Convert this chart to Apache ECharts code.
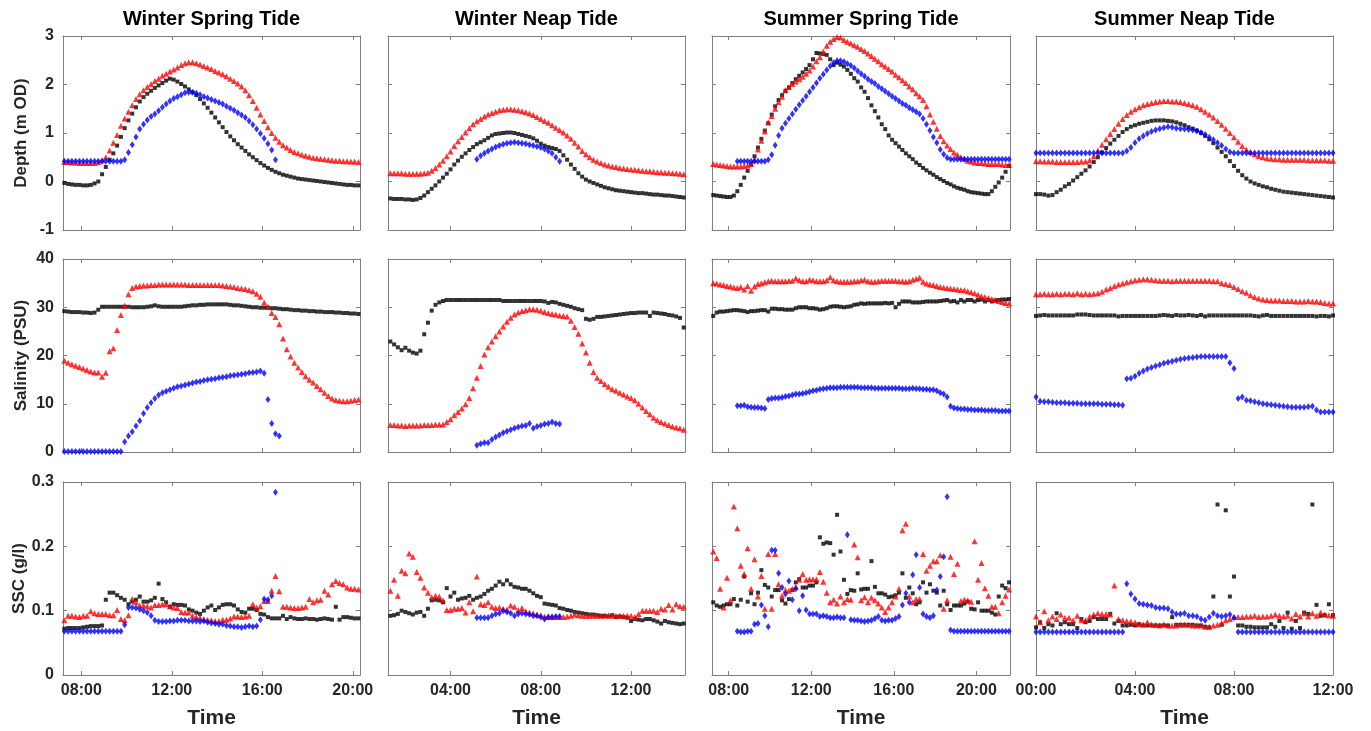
<!DOCTYPE html>
<html>
<head>
<meta charset="utf-8">
<title>Tide panels</title>
<script src="https://cdn.jsdelivr.net/npm/echarts@6/dist/echarts.min.js"></script>
<style>
  html, body { margin: 0; padding: 0; background: #fff; }
  #chart { width: 1371px; height: 731px; }
</style>
</head>
<body>
<div id="chart"></div>
<script>
// samples every 10 minutes, x in decimal hours
const STEP = 1 / 6

// ---- Winter Spring Tide ----
const wsStart = 7.25
const wsTicks = [8, 12, 16, 20]
const wsDepthBlack = [-0.03, -0.05, -0.06, -0.07, -0.07, -0.08, -0.08, -0.07, -0.04, 0.0,
  0.15, 0.3, 0.45, 0.58, 0.74, 0.92, 1.1, 1.26, 1.4, 1.53,
  1.65, 1.74, 1.81, 1.87, 1.93, 1.98, 2.03, 2.08, 2.12, 2.1,
  2.06, 2.01, 1.96, 1.9, 1.84, 1.78, 1.7, 1.61, 1.52, 1.42,
  1.32, 1.22, 1.12, 1.02, 0.93, 0.85, 0.77, 0.7, 0.63, 0.56,
  0.5, 0.44, 0.38, 0.33, 0.28, 0.24, 0.2, 0.17, 0.14, 0.12,
  0.1, 0.08, 0.06, 0.05, 0.04, 0.03, 0.02, 0.01, 0.0, -0.01,
  -0.02, -0.03, -0.04, -0.05, -0.06, -0.07, -0.07, -0.08, -0.08]
const wsDepthRed = [0.4, 0.4, 0.39, 0.39, 0.38, 0.38, 0.38, 0.38, 0.38, 0.4,
  0.44, 0.5, 0.64, 0.8, 0.96, 1.15, 1.3, 1.44, 1.57, 1.7,
  1.8, 1.88, 1.95, 2.01, 2.07, 2.12, 2.18, 2.22, 2.27, 2.31,
  2.35, 2.4, 2.44, 2.46, 2.46, 2.44, 2.41, 2.38, 2.35, 2.32,
  2.28, 2.25, 2.21, 2.17, 2.12, 2.07, 2.02, 1.96, 1.88, 1.78,
  1.66, 1.52, 1.38, 1.25, 1.12, 1.0, 0.9, 0.82, 0.75, 0.7,
  0.65, 0.61, 0.58, 0.55, 0.53, 0.51, 0.49, 0.48, 0.47, 0.46,
  0.45, 0.44, 0.43, 0.43, 0.42, 0.42, 0.41, 0.41, 0.4]
const wsDepthBlue = [0.42, 0.42, 0.42, 0.42, 0.42, 0.42, 0.42, 0.42, 0.42, 0.42,
  0.42, 0.42, 0.42, 0.42, 0.42, 0.42, 0.45, 0.6, 0.76, 0.92,
  1.08, 1.18, 1.27, 1.34, 1.39, 1.46, 1.53, 1.6, 1.66, 1.71,
  1.75, 1.79, 1.83, 1.84, 1.84, 1.82, 1.79, 1.75, 1.72, 1.69,
  1.66, 1.63, 1.6, 1.55, 1.51, 1.47, 1.42, 1.37, 1.32, 1.25,
  1.17, 1.08, 0.99, 0.89, 0.78, 0.65, 0.45]
const wsSalBlack = [29.2, 29.1, 29.0, 29.0, 29.0, 28.9, 28.9, 28.8, 28.9, 29.5,
  30.1, 30.1, 30.1, 30.1, 30.1, 30.1, 30.1, 30.1, 30.0, 30.0,
  30.0, 30.0, 30.1, 30.2, 30.4, 30.2, 30.1, 30.1, 30.1, 30.1,
  30.1, 30.1, 30.2, 30.3, 30.4, 30.4, 30.5, 30.5, 30.6, 30.6,
  30.6, 30.6, 30.6, 30.6, 30.5, 30.4, 30.4, 30.3, 30.2, 30.1,
  30.0, 30.0, 29.9, 29.9, 29.9, 29.8, 29.8, 29.7, 29.6, 29.6,
  29.5, 29.4, 29.4, 29.3, 29.3, 29.2, 29.2, 29.1, 29.1, 29.0,
  29.0, 29.0, 28.9, 28.9, 28.8, 28.8, 28.7, 28.7, 28.6]
const wsSalRed = [18.9, 18.5, 18.2, 17.9, 17.6, 17.3, 17.0, 16.7, 16.5, 16.5,
  15.6, 16.4, 20.9, 21.5, 25.3, 28.4, 30.3, 32.7, 34.0, 34.3,
  34.4, 34.5, 34.5, 34.6, 34.6, 34.7, 34.7, 34.7, 34.7, 34.7,
  34.7, 34.7, 34.7, 34.6, 34.6, 34.6, 34.6, 34.6, 34.6, 34.6,
  34.6, 34.6, 34.5, 34.4, 34.3, 34.2, 34.0, 33.9, 33.8, 33.6,
  33.3, 32.8, 32.2, 31.0, 30.1, 28.8, 28.0, 26.5, 23.5, 21.3,
  19.8, 18.5, 17.5, 16.6, 15.7, 15.0, 14.4, 13.7, 13.0, 12.3,
  11.6, 11.1, 10.8, 10.6, 10.5, 10.5, 10.6, 10.8, 10.9]
const wsSalBlue = [0.1, 0.1, 0.1, 0.1, 0.1, 0.1, 0.1, 0.1, 0.1, 0.1,
  0.1, 0.1, 0.1, 0.1, 0.1, 0.1, 2.1, 3.3, 4.2, 5.4,
  6.5, 8.0, 9.2, 10.2, 11.1, 11.8, 12.3, 12.6, 12.9, 13.2,
  13.5, 13.7, 13.9, 14.1, 14.3, 14.5, 14.6, 14.8, 15.0, 15.1,
  15.2, 15.4, 15.5, 15.6, 15.8, 15.9, 16.0, 16.1, 16.2, 16.4,
  16.5, 16.6, 16.8, 16.3, 10.9, 5.9, 3.8, 3.3]
const wsSscBlack = [0.072, 0.073, 0.073, 0.073, 0.073, 0.074, 0.075, 0.076, 0.076, 0.076,
  0.077, 0.117, 0.128, 0.128, 0.124, 0.12, 0.117, 0.11, 0.114, 0.117,
  0.122, 0.114, 0.114, 0.116, 0.12, 0.142, 0.118, 0.113, 0.106, 0.11,
  0.109, 0.109, 0.108, 0.102, 0.1, 0.097, 0.095, 0.1, 0.105, 0.108,
  0.101, 0.105, 0.109, 0.11, 0.11, 0.108, 0.102, 0.098, 0.097, 0.103,
  0.103, 0.101, 0.095, 0.094, 0.09, 0.088, 0.088, 0.088, 0.092, 0.087,
  0.09, 0.088, 0.087, 0.087, 0.088, 0.087, 0.087, 0.086, 0.087, 0.088,
  0.087, 0.086, 0.106, 0.086, 0.09, 0.09, 0.089, 0.088, 0.088]
const wsSscRed = [0.085, 0.092, 0.092, 0.091, 0.09, 0.092, 0.092, 0.099, 0.096, 0.095,
  0.095, 0.095, 0.093, 0.093, 0.101, 0.087, 0.085, 0.093, 0.118, 0.113,
  0.108, 0.108, 0.107, 0.105, 0.109, 0.109, 0.11, 0.11, 0.107, 0.105,
  0.104, 0.098, 0.097, 0.097, 0.092, 0.09, 0.089, 0.087, 0.086, 0.085,
  0.084, 0.084, 0.086, 0.086, 0.088, 0.091, 0.091, 0.09, 0.091, 0.092,
  0.11, 0.105, 0.107, 0.115, 0.115, 0.131, 0.154, 0.13, 0.106, 0.106,
  0.105, 0.104, 0.104, 0.105, 0.106, 0.118, 0.113, 0.116, 0.117, 0.131,
  0.125, 0.141, 0.146, 0.143, 0.141, 0.136, 0.134, 0.134, 0.133]
const wsSscBlue = [0.068, 0.068, 0.068, 0.068, 0.068, 0.068, 0.068, 0.068, 0.068, 0.068,
  0.068, 0.068, 0.068, 0.068, 0.068, 0.068, 0.078, 0.105, 0.105, 0.104,
  0.102, 0.1, 0.097, 0.092, 0.085, 0.083, 0.083, 0.083, 0.084, 0.084,
  0.085, 0.085, 0.085, 0.084, 0.084, 0.084, 0.083, 0.084, 0.082, 0.081,
  0.08, 0.079, 0.079, 0.077, 0.076, 0.075, 0.075, 0.074, 0.075, 0.076,
  0.075, 0.076, 0.086, 0.118, 0.117, 0.123, 0.284]

// ---- Winter Neap Tide ----
const wnStart = 1 + 20 / 60
const wnBlueStart = 5 + 10 / 60
const wnTicks = [4, 8, 12]
const wnDepthBlack = [-0.35, -0.36, -0.36, -0.36, -0.37, -0.37, -0.38, -0.37, -0.34, -0.29,
  -0.22, -0.15, -0.08, 0.0, 0.08, 0.16, 0.25, 0.35, 0.43, 0.51,
  0.58, 0.65, 0.71, 0.77, 0.81, 0.85, 0.9, 0.95, 0.98, 0.99,
  1.0, 1.01, 1.01, 1.0, 0.98, 0.96, 0.94, 0.92, 0.89, 0.84,
  0.78, 0.74, 0.71, 0.69, 0.67, 0.63, 0.54, 0.45, 0.35, 0.26,
  0.17, 0.1, 0.04, 0.0, -0.03, -0.06, -0.09, -0.12, -0.14, -0.16,
  -0.18, -0.19, -0.2, -0.21, -0.22, -0.23, -0.24, -0.24, -0.25, -0.26,
  -0.27, -0.27, -0.28, -0.29, -0.29, -0.3, -0.31, -0.32, -0.33]
const wnDepthRed = [0.17, 0.17, 0.17, 0.17, 0.16, 0.16, 0.16, 0.16, 0.16, 0.17,
  0.18, 0.22, 0.28, 0.35, 0.43, 0.52, 0.62, 0.73, 0.83, 0.92,
  1.01, 1.1, 1.18, 1.24, 1.29, 1.34, 1.38, 1.41, 1.44, 1.47,
  1.48, 1.49, 1.49, 1.48, 1.47, 1.45, 1.43, 1.4, 1.37, 1.33,
  1.29, 1.25, 1.21, 1.16, 1.11, 1.06, 1.01, 0.95, 0.88, 0.8,
  0.72, 0.63, 0.56, 0.5, 0.45, 0.41, 0.38, 0.35, 0.33, 0.31,
  0.3, 0.28, 0.27, 0.26, 0.25, 0.24, 0.23, 0.22, 0.21, 0.21,
  0.2, 0.19, 0.19, 0.18, 0.18, 0.17, 0.17, 0.16, 0.15]
const wnDepthBlue = [0.46, 0.53, 0.58, 0.63, 0.67, 0.71, 0.74, 0.77, 0.79, 0.8,
  0.81, 0.8, 0.79, 0.78, 0.76, 0.74, 0.72, 0.7, 0.67, 0.63,
  0.58, 0.5, 0.42]
const wnSalBlack = [22.9, 22.3, 21.7, 21.1, 21.6, 21.0, 20.6, 20.4, 21.0, 24.4,
  26.8, 29.3, 30.5, 31.0, 31.3, 31.5, 31.5, 31.5, 31.5, 31.5,
  31.5, 31.5, 31.5, 31.5, 31.5, 31.5, 31.5, 31.5, 31.5, 31.5,
  31.3, 31.3, 31.3, 31.3, 31.3, 31.3, 31.3, 31.3, 31.3, 31.3,
  31.3, 31.2, 30.9, 31.1, 31.0, 30.7, 30.5, 30.3, 30.1, 29.8,
  29.6, 29.4, 27.6, 27.4, 27.6, 28.0, 28.0, 28.1, 28.2, 28.3,
  28.4, 28.5, 28.6, 28.7, 28.8, 28.8, 28.9, 28.9, 28.9, 28.2,
  28.9, 28.8, 28.7, 28.6, 28.4, 28.3, 28.1, 27.8, 25.8]
const wnSalRed = [5.6, 5.6, 5.5, 5.5, 5.4, 5.5, 5.5, 5.5, 5.5, 5.6,
  5.6, 5.6, 5.7, 5.7, 5.7, 6.2, 6.8, 7.6, 8.3, 9.0,
  9.9, 11.2, 13.2, 15.4, 17.8, 20.2, 21.7, 22.9, 24.0, 25.0,
  26.0, 27.0, 27.8, 28.5, 28.9, 29.2, 29.4, 29.6, 29.6, 29.5,
  29.3, 29.0, 28.8, 28.6, 28.5, 28.3, 28.2, 28.1, 27.2, 25.9,
  24.5, 22.5, 20.6, 18.5, 16.6, 15.4, 14.7, 14.1, 13.5, 13.0,
  12.7, 12.3, 11.9, 11.5, 11.2, 10.7, 10.0, 9.2, 8.5, 7.8,
  7.1, 6.6, 6.2, 5.9, 5.6, 5.3, 5.1, 4.9, 4.6]
const wnSalBlue = [1.4, 1.7, 1.9, 1.9, 2.6, 3.1, 3.5, 4.0, 4.3, 4.6,
  4.9, 5.2, 5.4, 5.5, 5.9, 4.9, 5.3, 5.5, 5.8, 5.9,
  6.2, 5.9, 5.8]
const wnSscBlack = [0.092, 0.093, 0.095, 0.1, 0.098, 0.096, 0.094, 0.097, 0.098, 0.092,
  0.103, 0.116, 0.117, 0.116, 0.113, 0.135, 0.122, 0.128, 0.117, 0.119,
  0.12, 0.123, 0.117, 0.12, 0.122, 0.126, 0.131, 0.134, 0.139, 0.145,
  0.141, 0.147, 0.141, 0.137, 0.136, 0.134, 0.134, 0.131, 0.127, 0.123,
  0.121, 0.111, 0.11, 0.109, 0.108, 0.104, 0.103, 0.101, 0.1, 0.098,
  0.097, 0.096, 0.095, 0.094, 0.094, 0.093, 0.092, 0.092, 0.091, 0.093,
  0.09, 0.091, 0.09, 0.089, 0.084, 0.087, 0.086, 0.085, 0.087, 0.087,
  0.085, 0.083, 0.08, 0.084, 0.082, 0.081, 0.08, 0.079, 0.08]
const wnSscRed = [0.131, 0.148, 0.123, 0.162, 0.158, 0.189, 0.184, 0.16, 0.151, 0.136,
  0.128, 0.121, 0.123, 0.122, 0.116, 0.101, 0.101, 0.103, 0.103, 0.104,
  0.097, 0.113, 0.099, 0.153, 0.11, 0.109, 0.113, 0.106, 0.104, 0.105,
  0.103, 0.102, 0.108, 0.106, 0.101, 0.104, 0.099, 0.097, 0.096, 0.094,
  0.093, 0.091, 0.09, 0.09, 0.09, 0.09, 0.09, 0.091, 0.092, 0.094,
  0.093, 0.092, 0.092, 0.092, 0.092, 0.092, 0.092, 0.092, 0.093, 0.092,
  0.092, 0.092, 0.092, 0.092, 0.092, 0.09, 0.095, 0.1, 0.1, 0.1,
  0.1, 0.098, 0.103, 0.102, 0.109, 0.102, 0.11, 0.107, 0.106]
const wnSscBlue = [0.089, 0.089, 0.089, 0.089, 0.092, 0.095, 0.096, 0.1, 0.098, 0.096,
  0.092, 0.095, 0.096, 0.095, 0.094, 0.092, 0.092, 0.09, 0.087, 0.09,
  0.09, 0.091, 0.091]

// ---- Summer Spring Tide ----
const ssStart = 7.25
const ssBlueStart = 8 + 25 / 60
const ssTicks = [8, 12, 16, 20]
const ssDepthBlack = [-0.28, -0.29, -0.3, -0.31, -0.32, -0.32, -0.29, -0.2, -0.07, 0.08,
  0.22, 0.35, 0.52, 0.7, 0.88, 1.05, 1.2, 1.38, 1.55, 1.68,
  1.78, 1.87, 1.94, 2.03, 2.11, 2.18, 2.25, 2.32, 2.4, 2.52,
  2.65, 2.64, 2.63, 2.61, 2.52, 2.4, 2.45, 2.41, 2.37, 2.3,
  2.22, 2.13, 2.06, 1.94, 1.85, 1.72, 1.57, 1.45, 1.32, 1.18,
  1.08, 0.95, 0.86, 0.79, 0.72, 0.65, 0.58, 0.52, 0.46, 0.39,
  0.34, 0.28, 0.23, 0.18, 0.14, 0.09, 0.05, 0.01, -0.03, -0.06,
  -0.1, -0.13, -0.15, -0.17, -0.2, -0.22, -0.23, -0.24, -0.25, -0.26,
  -0.26, -0.2, -0.11, -0.02, 0.08, 0.2, 0.32]
const ssDepthRed = [0.36, 0.35, 0.34, 0.33, 0.32, 0.31, 0.31, 0.31, 0.31, 0.32,
  0.33, 0.36, 0.45, 0.66, 0.84, 1.03, 1.22, 1.35, 1.5, 1.64,
  1.75, 1.88, 1.95, 2.01, 2.06, 2.11, 2.16, 2.22, 2.29, 2.37,
  2.48, 2.56, 2.68, 2.8, 2.88, 2.94, 2.98, 2.97, 2.92, 2.88,
  2.85, 2.81, 2.78, 2.73, 2.69, 2.64, 2.59, 2.53, 2.48, 2.42,
  2.37, 2.32, 2.27, 2.2, 2.15, 2.09, 2.03, 1.96, 1.9, 1.82,
  1.76, 1.68, 1.55, 1.38, 1.23, 1.09, 0.94, 0.83, 0.74, 0.67,
  0.6, 0.55, 0.5, 0.47, 0.43, 0.41, 0.39, 0.38, 0.38, 0.37,
  0.36, 0.36, 0.36, 0.36, 0.35, 0.34, 0.34]
const ssDepthBlue = [0.42, 0.42, 0.42, 0.42, 0.42, 0.42, 0.42, 0.42, 0.42,
  0.45, 0.55, 0.75, 0.95, 1.1, 1.2, 1.3, 1.39, 1.49, 1.58,
  1.67, 1.76, 1.85, 1.94, 2.03, 2.13, 2.21, 2.3, 2.38, 2.45,
  2.49, 2.49, 2.47, 2.43, 2.39, 2.34, 2.28, 2.22, 2.17, 2.11,
  2.06, 2.02, 1.96, 1.91, 1.86, 1.81, 1.76, 1.71, 1.66, 1.61,
  1.57, 1.52, 1.48, 1.44, 1.39, 1.3, 1.18, 1.05, 0.92, 0.8,
  0.66, 0.56, 0.49, 0.46, 0.46, 0.46, 0.46, 0.46, 0.46, 0.46,
  0.46, 0.46, 0.46, 0.46, 0.46, 0.46, 0.46, 0.46, 0.46, 0.46, 0.46]
const ssSalBlack = [28.2, 28.9, 29.1, 29.1, 29.2, 29.3, 29.4, 29.4, 29.3, 29.2,
  29.0, 29.2, 29.2, 29.3, 29.4, 29.4, 29.1, 29.7, 29.7, 29.6,
  29.6, 29.5, 29.5, 29.5, 29.8, 30.0, 30.0, 30.0, 29.8, 29.8,
  29.7, 29.5, 29.6, 29.8, 30.1, 30.2, 30.2, 30.1, 30.0, 30.1,
  30.2, 30.5, 30.6, 30.8, 30.7, 30.8, 30.8, 30.8, 30.8, 30.8,
  30.9, 30.8, 30.9, 30.0, 30.7, 31.2, 31.2, 31.2, 31.0, 31.0,
  31.0, 31.1, 31.2, 31.2, 31.2, 31.2, 31.3, 31.4, 31.5, 31.2,
  31.3, 31.0, 31.5, 31.2, 31.5, 31.5, 31.2, 31.5, 31.6, 31.2,
  31.5, 31.2, 31.4, 31.5, 31.6, 31.6, 31.7]
const ssSalRed = [35.0, 34.9, 34.7, 34.6, 34.4, 34.3, 34.1, 34.0, 34.2, 33.7,
  34.4, 33.4, 34.3, 34.8, 35.0, 35.2, 35.4, 35.5, 35.4, 35.4,
  35.4, 35.4, 35.5, 35.5, 36.0, 35.6, 35.4, 35.4, 35.7, 35.6,
  35.4, 35.4, 35.4, 35.6, 36.2, 35.6, 35.4, 35.3, 35.3, 35.3,
  35.3, 35.4, 35.4, 35.6, 35.7, 35.4, 35.3, 35.3, 35.4, 35.5,
  35.5, 35.5, 35.5, 35.5, 35.4, 35.4, 35.3, 35.4, 35.7, 35.9,
  36.1, 35.3, 34.9, 34.7, 34.6, 34.4, 34.2, 34.1, 34.0, 33.9,
  33.8, 33.7, 33.6, 33.5, 33.3, 33.1, 32.9, 32.6, 32.3, 32.1,
  31.9, 31.7, 31.5, 31.3, 31.1, 30.9, 30.8]
const ssSalBlue = [9.6, 9.6, 9.7, 9.4, 9.3, 9.2, 9.2, 9.1, 9.0,
  10.9, 11.1, 11.2, 11.2, 11.3, 11.5, 11.6, 11.8, 12.0, 12.0,
  12.1, 12.3, 12.5, 12.7, 12.8, 13.0, 13.1, 13.2, 13.3, 13.3,
  13.3, 13.4, 13.4, 13.4, 13.4, 13.4, 13.4, 13.3, 13.3, 13.3,
  13.3, 13.2, 13.2, 13.2, 13.2, 13.2, 13.2, 13.2, 13.2, 13.1,
  13.1, 13.1, 13.2, 13.1, 13.1, 13.0, 13.0, 12.9, 12.9, 12.7,
  12.3, 12.0, 11.4, 9.5, 9.1, 9.0, 8.9, 8.9, 8.8, 8.8,
  8.7, 8.7, 8.7, 8.6, 8.6, 8.6, 8.6, 8.5, 8.5, 8.5, 8.5]
const ssSscBlack = [0.113, 0.108, 0.106, 0.108, 0.11, 0.11, 0.118, 0.108, 0.117, 0.153,
  0.114, 0.127, 0.11, 0.128, 0.163, 0.14, 0.136, 0.122, 0.132, 0.132,
  0.116, 0.111, 0.118, 0.132, 0.144, 0.149, 0.136, 0.136, 0.139, 0.139,
  0.144, 0.214, 0.204, 0.206, 0.205, 0.187, 0.249, 0.192, 0.148, 0.126,
  0.132, 0.131, 0.158, 0.133, 0.134, 0.134, 0.177, 0.137, 0.127, 0.127,
  0.125, 0.121, 0.122, 0.124, 0.128, 0.158, 0.12, 0.136, 0.127, 0.11,
  0.113, 0.144, 0.128, 0.141, 0.131, 0.128, 0.108, 0.131, 0.11, 0.101,
  0.108, 0.108, 0.108, 0.111, 0.114, 0.103, 0.102, 0.113, 0.1, 0.1,
  0.1, 0.097, 0.094, 0.122, 0.139, 0.135, 0.144]
const ssSscRed = [0.192, 0.182, 0.134, 0.105, 0.151, 0.116, 0.262, 0.228, 0.17, 0.157,
  0.197, 0.134, 0.18, 0.122, 0.154, 0.103, 0.188, 0.103, 0.188, 0.141,
  0.123, 0.132, 0.131, 0.134, 0.137, 0.148, 0.157, 0.148, 0.149, 0.149,
  0.149, 0.16, 0.145, 0.128, 0.113, 0.117, 0.111, 0.122, 0.113, 0.118,
  0.117, 0.203, 0.183, 0.116, 0.121, 0.113, 0.12, 0.116, 0.111, 0.105,
  0.098, 0.105, 0.113, 0.122, 0.134, 0.225, 0.235, 0.122, 0.113, 0.118,
  0.118, 0.188, 0.162, 0.17, 0.177, 0.177, 0.186, 0.103, 0.116, 0.184,
  0.157, 0.173, 0.115, 0.117, 0.116, 0.114, 0.208, 0.148, 0.174, 0.135,
  0.123, 0.106, 0.106, 0.096, 0.113, 0.123, 0.133]
const ssSscBlue = [0.068, 0.067, 0.067, 0.068, 0.068, 0.079, 0.08, 0.109, 0.092,
  0.075, 0.194, 0.194, 0.158, 0.136, 0.126, 0.146, 0.117, 0.134, 0.1,
  0.123, 0.101, 0.095, 0.095, 0.095, 0.091, 0.092, 0.091, 0.089, 0.089,
  0.09, 0.089, 0.089, 0.218, 0.086, 0.085, 0.085, 0.084, 0.083, 0.084,
  0.085, 0.088, 0.091, 0.085, 0.084, 0.085, 0.085, 0.088, 0.091, 0.109,
  0.127, 0.113, 0.156, 0.187, 0.136, 0.095, 0.091, 0.089, 0.092, 0.132,
  0.153, 0.184, 0.277, 0.07, 0.068, 0.068, 0.068, 0.068, 0.068, 0.068,
  0.068, 0.068, 0.068, 0.068, 0.068, 0.068, 0.068, 0.068, 0.068, 0.068, 0.068]

// ---- Summer Neap Tide ----
const snStart = 0
const snTicks = [0, 4, 8, 12]
const snDepthBlack = [-0.26, -0.26, -0.27, -0.29, -0.28, -0.22, -0.17, -0.1, -0.05, 0.02,
  0.09, 0.16, 0.23, 0.31, 0.4, 0.5, 0.6, 0.69, 0.78, 0.86,
  0.94, 1.02, 1.08, 1.13, 1.16, 1.19, 1.21, 1.23, 1.25, 1.26,
  1.26, 1.26, 1.25, 1.24, 1.22, 1.19, 1.16, 1.12, 1.09, 1.05,
  1.0, 0.94, 0.87, 0.79, 0.7, 0.61, 0.52, 0.42, 0.32, 0.22,
  0.13, 0.06, 0.0, -0.04, -0.07, -0.1, -0.12, -0.15, -0.17, -0.19,
  -0.21, -0.22, -0.23, -0.24, -0.25, -0.26, -0.27, -0.28, -0.29, -0.3,
  -0.31, -0.32, -0.33]
const snDepthRed = [0.42, 0.42, 0.41, 0.41, 0.41, 0.4, 0.4, 0.4, 0.4, 0.4,
  0.4, 0.41, 0.41, 0.44, 0.52, 0.64, 0.76, 0.87, 0.98, 1.08,
  1.19, 1.29, 1.37, 1.44, 1.49, 1.53, 1.57, 1.6, 1.62, 1.64,
  1.65, 1.66, 1.66, 1.65, 1.65, 1.64, 1.62, 1.6, 1.57, 1.54,
  1.49, 1.44, 1.38, 1.32, 1.25, 1.17, 1.09, 1.0, 0.91, 0.82,
  0.73, 0.66, 0.61, 0.56, 0.52, 0.5, 0.48, 0.47, 0.46, 0.46,
  0.45, 0.45, 0.45, 0.45, 0.45, 0.45, 0.44, 0.44, 0.44, 0.44,
  0.44, 0.43, 0.43]
const snDepthBlue = [0.59, 0.59, 0.59, 0.59, 0.59, 0.59, 0.59, 0.59, 0.59, 0.59,
  0.59, 0.59, 0.59, 0.59, 0.59, 0.59, 0.59, 0.59, 0.59, 0.59,
  0.59, 0.59, 0.63, 0.7, 0.8, 0.88, 0.94, 0.99, 1.03, 1.06,
  1.09, 1.11, 1.13, 1.12, 1.1, 1.09, 1.08, 1.07, 1.06, 1.04,
  1.01, 0.97, 0.91, 0.86, 0.8, 0.74, 0.67, 0.61, 0.59, 0.59,
  0.59, 0.59, 0.59, 0.59, 0.59, 0.59, 0.59, 0.59, 0.59, 0.59,
  0.59, 0.59, 0.59, 0.59, 0.59, 0.59, 0.59, 0.59, 0.59, 0.59,
  0.59, 0.59, 0.59]
const snSalBlack = [28.2, 28.3, 28.4, 28.3, 28.3, 28.3, 28.3, 28.3, 28.3, 28.3,
  28.5, 28.5, 28.5, 28.4, 28.3, 28.3, 28.3, 28.3, 28.3, 28.3,
  28.1, 28.2, 28.2, 28.2, 28.2, 28.2, 28.2, 28.2, 28.2, 28.2,
  28.3, 28.4, 28.3, 28.2, 28.4, 28.3, 28.3, 28.4, 28.3, 28.2,
  28.4, 28.1, 28.3, 28.3, 28.3, 28.3, 28.3, 28.3, 28.3, 28.3,
  28.3, 28.3, 28.3, 28.2, 28.1, 28.3, 28.4, 28.2, 28.2, 28.2,
  28.2, 28.2, 28.2, 28.2, 28.2, 28.2, 28.2, 28.2, 28.1, 28.2,
  28.2, 28.1, 28.3]
const snSalRed = [32.7, 32.7, 32.8, 32.7, 32.7, 32.8, 32.7, 32.8, 32.8, 32.7,
  32.9, 32.7, 32.8, 32.7, 32.8, 32.9, 33.2, 33.7, 34.0, 34.4,
  34.7, 34.9, 35.2, 35.4, 35.6, 35.7, 35.8, 35.8, 35.7, 35.6,
  35.5, 35.5, 35.5, 35.4, 35.5, 35.5, 35.5, 35.5, 35.5, 35.5,
  35.5, 35.5, 35.5, 35.4, 35.4, 35.0, 34.8, 34.6, 34.2, 33.8,
  33.3, 33.0, 32.5, 32.1, 31.8, 31.6, 31.5, 31.4, 31.4, 31.4,
  31.3, 31.3, 31.3, 31.2, 31.2, 31.2, 31.3, 31.2, 31.2, 31.1,
  30.9, 30.8, 30.8]
const snSalBlue = [11.4, 10.5, 10.4, 10.4, 10.3, 10.2, 10.2, 10.2, 10.1, 10.1,
  10.1, 10.0, 10.0, 10.0, 10.0, 10.0, 9.9, 9.9, 9.9, 9.8,
  9.8, 9.7, 15.2, 15.3, 15.7, 16.3, 16.8, 17.2, 17.5, 17.8,
  18.1, 18.4, 18.6, 18.8, 19.0, 19.2, 19.4, 19.5, 19.6, 19.7,
  19.8, 19.8, 19.8, 19.8, 19.8, 19.8, 19.8, 18.5, 17.3, 11.1,
  11.4, 10.7, 10.6, 10.4, 10.2, 10.0, 9.9, 9.8, 9.7, 9.6,
  9.5, 9.4, 9.3, 9.3, 9.3, 9.3, 9.4, 9.5, 8.7, 8.3,
  8.3, 8.3, 8.3]
const snSscBlack = [0.074, 0.082, 0.073, 0.079, 0.077, 0.096, 0.079, 0.082, 0.079, 0.079,
  0.073, 0.087, 0.082, 0.084, 0.09, 0.087, 0.087, 0.087, 0.095, 0.08,
  0.084, 0.077, 0.077, 0.078, 0.077, 0.079, 0.077, 0.077, 0.077, 0.077,
  0.077, 0.077, 0.077, 0.09, 0.078, 0.078, 0.078, 0.078, 0.078, 0.077,
  0.077, 0.075, 0.074, 0.122, 0.265, 0.078, 0.256, 0.122, 0.153, 0.077,
  0.077, 0.075, 0.075, 0.074, 0.074, 0.074, 0.074, 0.079, 0.075, 0.084,
  0.073, 0.097, 0.072, 0.084, 0.073, 0.097, 0.095, 0.265, 0.109, 0.092,
  0.093, 0.11, 0.093]
const snSscRed = [0.091, 0.082, 0.099, 0.085, 0.091, 0.087, 0.094, 0.089, 0.089, 0.085,
  0.092, 0.085, 0.085, 0.091, 0.094, 0.096, 0.095, 0.095, 0.094, 0.139,
  0.087, 0.085, 0.084, 0.083, 0.082, 0.079, 0.079, 0.082, 0.079, 0.078,
  0.077, 0.079, 0.077, 0.077, 0.077, 0.078, 0.078, 0.078, 0.077, 0.077,
  0.077, 0.075, 0.075, 0.077, 0.078, 0.081, 0.085, 0.087, 0.09, 0.09,
  0.09, 0.091, 0.091, 0.092, 0.09, 0.091, 0.091, 0.092, 0.094, 0.092,
  0.091, 0.092, 0.088, 0.095, 0.091, 0.096, 0.091, 0.096, 0.092, 0.097,
  0.094, 0.093, 0.092]
const snSscBlue = [0.067, 0.067, 0.067, 0.067, 0.067, 0.067, 0.067, 0.067, 0.067, 0.067,
  0.067, 0.067, 0.067, 0.067, 0.067, 0.067, 0.067, 0.067, 0.067, 0.067,
  0.067, 0.067, 0.142, 0.126, 0.118, 0.111, 0.11, 0.109, 0.108, 0.105,
  0.104, 0.104, 0.103, 0.098, 0.095, 0.095, 0.096, 0.092, 0.092, 0.091,
  0.087, 0.085, 0.09, 0.096, 0.092, 0.091, 0.092, 0.094, 0.089, 0.067,
  0.067, 0.067, 0.067, 0.067, 0.067, 0.067, 0.067, 0.067, 0.067, 0.067,
  0.067, 0.067, 0.067, 0.067, 0.067, 0.067, 0.067, 0.067, 0.067, 0.067,
  0.067, 0.067, 0.067]

const panels = [
  { title: 'Winter Spring Tide', xMin: 7.19, xMax: 20.32, ticks: wsTicks, start: wsStart, blueStart: wsStart,
    rows: [[wsDepthBlack, wsDepthRed, wsDepthBlue], [wsSalBlack, wsSalRed, wsSalBlue], [wsSscBlack, wsSscRed, wsSscBlue]] },
  { title: 'Winter Neap Tide', xMin: 1.23, xMax: 14.39, ticks: wnTicks, start: wnStart, blueStart: wnBlueStart,
    rows: [[wnDepthBlack, wnDepthRed, wnDepthBlue], [wnSalBlack, wnSalRed, wnSalBlue], [wnSscBlack, wnSscRed, wnSscBlue]] },
  { title: 'Summer Spring Tide', xMin: 7.19, xMax: 21.63, ticks: ssTicks, start: ssStart, blueStart: ssBlueStart,
    rows: [[ssDepthBlack, ssDepthRed, ssDepthBlue], [ssSalBlack, ssSalRed, ssSalBlue], [ssSscBlack, ssSscRed, ssSscBlue]] },
  { title: 'Summer Neap Tide', xMin: 0, xMax: 12, ticks: snTicks, start: snStart, blueStart: snStart,
    rows: [[snDepthBlack, snDepthRed, snDepthBlue], [snSalBlack, snSalRed, snSalBlue], [snSscBlack, snSscRed, snSscBlue]] }
]

const rowAxes = [
  { name: 'Depth (m OD)', min: -1, max: 3, interval: 1 },
  { name: 'Salinity (PSU)', min: 0, max: 40, interval: 10 },
  { name: 'SSC (g/l)', min: 0, max: 0.3, interval: 0.1 }
]

const markers = [
  { symbol: 'rect', size: 4, color: '#000000' },
  { symbol: 'triangle', size: 6, color: '#ff0000' },
  { symbol: 'diamond', size: [5, 7], color: '#0000ff' }
]

// layout in px
const colLeft = [63, 388, 712, 1036]
const colWidth = [297, 297, 298, 297]
const rowTop = [36, 259, 482]
const rowHeight = [194, 193, 193]

const FONT = 'Liberation Sans, Arial, Helvetica, sans-serif'
const boxColor = '#7f7f7f'
const labelColor = '#262626'

const hhmm = v => (v < 10 ? '0' : '') + Math.round(v) + ':00'

const grids = []
const xAxes = []
const yAxes = []
const series = []
const graphics = []

panels.forEach((p, c) => {
  graphics.push({
    type: 'text',
    x: colLeft[c] + colWidth[c] / 2,
    y: 19,
    style: { text: p.title, font: 'bold 20px ' + FONT, fill: '#000', textAlign: 'center', textVerticalAlign: 'middle' }
  })
  rowAxes.forEach((r, k) => {
    const g = grids.length
    const bottom = k === 2
    const first = c === 0
    grids.push({ left: colLeft[c], top: rowTop[k], width: colWidth[c], height: rowHeight[k] })
    const xBase = {
      gridIndex: g, type: 'value', min: p.xMin, max: p.xMax,
      axisLine: { onZero: false, lineStyle: { color: boxColor, width: 1 } },
      axisTick: { inside: true, length: 4, customValues: p.ticks, lineStyle: { color: boxColor } },
      splitLine: { show: false }
    }
    xAxes.push(Object.assign({}, xBase, {
      position: 'bottom',
      name: bottom ? 'Time' : '',
      nameLocation: 'middle',
      nameGap: 33,
      nameTextStyle: { fontFamily: FONT, fontWeight: 'bold', fontSize: 21, color: labelColor },
      axisLabel: {
        show: bottom, customValues: p.ticks, formatter: hhmm, margin: 8,
        fontFamily: FONT, fontWeight: 'bold', fontSize: 16, color: labelColor,
        showMinLabel: true, showMaxLabel: true
      }
    }))
    xAxes.push(Object.assign({}, xBase, { position: 'top', axisLabel: { show: false } }))
    const yBase = {
      gridIndex: g, type: 'value', min: r.min, max: r.max, interval: r.interval,
      axisLine: { show: true, onZero: false, lineStyle: { color: boxColor, width: 1 } },
      axisTick: { show: true, inside: true, length: 4, lineStyle: { color: boxColor } },
      splitLine: { show: false }
    }
    yAxes.push(Object.assign({}, yBase, {
      position: 'left',
      name: first ? r.name : '',
      nameLocation: 'middle',
      nameGap: 33,
      nameTextStyle: { fontFamily: FONT, fontWeight: 'bold', fontSize: 17, color: labelColor },
      axisLabel: { show: first, margin: 9, fontFamily: FONT, fontWeight: 'bold', fontSize: 16, color: labelColor }
    }))
    yAxes.push(Object.assign({}, yBase, { position: 'right', axisLabel: { show: false } }))

    p.rows[k].forEach((vals, s) => {
      const start = s === 2 ? p.blueStart : p.start
      const m = markers[s]
      series.push({
        type: 'scatter',
        xAxisIndex: 2 * g,
        yAxisIndex: 2 * g,
        symbol: m.symbol,
        symbolSize: m.size,
        itemStyle: { color: m.color },
        data: vals.map((v, i) => [start + i * STEP, v]),
        silent: true
      })
    })
  })
})

const chart = echarts.init(document.getElementById('chart'))
chart.setOption({
  backgroundColor: '#ffffff',
  animation: false,
  grid: grids,
  xAxis: xAxes,
  yAxis: yAxes,
  graphic: graphics,
  series: series
})
</script>
</body>
</html>
